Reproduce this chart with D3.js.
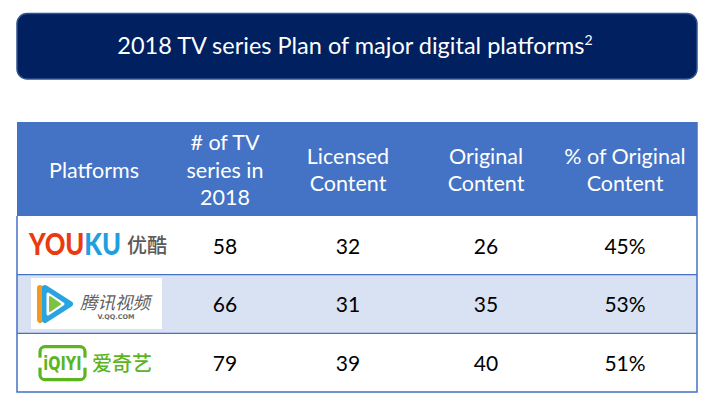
<!DOCTYPE html>
<html>
<head>
<meta charset="utf-8">
<script src="https://cdn.jsdelivr.net/npm/d3@7"></script>
<style>
  html, body { margin: 0; padding: 0; background: #ffffff; }
  svg { display: block; }
</style>
</head>
<body>
<svg id="chart" width="710" height="404"></svg>
<script>
// ---- data ----
const titleText = "2018 TV series Plan of major digital platforms";
const titleNote = "2";
const headers = [
  ["Platforms"],
  ["# of TV", "series in", "2018"],
  ["Licensed", "Content"],
  ["Original", "Content"],
  ["% of Original", "Content"]
];
const platforms = ["Youku", "Tencent Video", "iQIYI"];
const seriesCount = [58, 66, 79];
const licensedContent = [32, 31, 39];
const originalContent = [26, 35, 40];
const originalShare = ["45%", "53%", "51%"];

// ---- layout ----
const FONT = "Lato, 'Open Sans', sans-serif";
const CJK = "'Noto Sans CJK SC', sans-serif";
const svg = d3.select("#chart");
const tableLeft = 17, tableRight = 697;
const headerTop = 122, headerBottom = 216, tableBottom = 392;
const blue = "#4472C4";

// column centre scale
const colKeys = headers.map((d, i) => i);
const colX = d3.scaleOrdinal().domain(colKeys).range([94, 225, 348, 486, 625]);
// row band scale
const rowY = d3.scaleBand().domain(platforms).range([headerBottom, tableBottom]).padding(0);

// ---- title box ----
svg.append("rect")
  .attr("x", 17).attr("y", 13.5).attr("width", 680).attr("height", 65.5)
  .attr("rx", 10).attr("ry", 10)
  .attr("fill", "#002060").attr("stroke", "#2F528F").attr("stroke-width", 1.5);
const t = svg.append("text")
  .attr("x", 355).attr("y", 54)
  .attr("text-anchor", "middle")
  .attr("fill", "#ffffff")
  .attr("font-family", FONT)
  .attr("font-size", 23.5);
t.append("tspan").text(titleText);
t.append("tspan").attr("font-size", 14).attr("dy", -9).text(titleNote);

// ---- header ----
svg.append("rect")
  .attr("x", tableLeft).attr("y", headerTop)
  .attr("width", tableRight - tableLeft).attr("height", headerBottom - headerTop)
  .attr("fill", blue);

const lineH = 27.5;
const headerMid = 170;
svg.selectAll("g.hdr").data(headers).join("g").attr("class", "hdr")
  .each(function (lines, i) {
    const g = d3.select(this);
    const y0 = headerMid - (lines.length - 1) * lineH / 2;
    g.selectAll("text").data(lines).join("text")
      .attr("x", colX(i))
      .attr("y", (d, j) => y0 + j * lineH)
      .attr("dy", "0.35em")
      .attr("text-anchor", "middle")
      .attr("fill", "#ffffff")
      .attr("font-family", FONT)
      .attr("font-size", 21.5)
      .text(d => d);
  });

// ---- body rows ----
const rows = platforms.map((p, i) => ({
  platform: p,
  cells: [seriesCount[i], licensedContent[i], originalContent[i], originalShare[i]],
  shaded: i === 1
}));

const rowG = svg.selectAll("g.row").data(rows).join("g").attr("class", "row");
rowG.append("rect")
  .attr("x", tableLeft).attr("y", d => rowY(d.platform))
  .attr("width", tableRight - tableLeft).attr("height", rowY.bandwidth())
  .attr("fill", d => d.shaded ? "#D9E2F3" : "#ffffff");

rowG.each(function (d) {
  d3.select(this).selectAll("text.val").data(d.cells).join("text")
    .attr("class", "val")
    .attr("x", (v, j) => colX(j + 1))
    .attr("y", rowY(d.platform) + rowY.bandwidth() / 2 + 1)
    .attr("dy", "0.35em")
    .attr("text-anchor", "middle")
    .attr("fill", "#000000")
    .attr("font-family", FONT)
    .attr("font-size", 21)
    .text(v => v);
});

// separators and outer border
svg.selectAll("line.sep").data(platforms.slice(1)).join("line")
  .attr("class", "sep")
  .attr("x1", tableLeft).attr("x2", tableRight)
  .attr("y1", d => rowY(d)).attr("y2", d => rowY(d))
  .attr("stroke", blue).attr("stroke-width", 1.2);
svg.append("path")
  .attr("d", `M${tableLeft},${headerBottom}V${tableBottom}H${tableRight}V${headerTop}`)
  .attr("fill", "none").attr("stroke", blue).attr("stroke-width", 1.5);

// ---- logos ----
function logoYouku(g, cy) {
  const base = cy + 10;
  const tx = g.append("text")
    .attr("x", 29).attr("y", 0)
    .attr("transform", `translate(0,${base}) scale(1,1.2)`)
    .attr("font-family", "Lato, 'DejaVu Sans', sans-serif")
    .attr("font-weight", 900)
    .attr("font-size", 25.5);
  tx.append("tspan").attr("fill", "#EA3A10").text("YOU");
  tx.append("tspan").attr("fill", "#1E9FE0").text("KU");
  g.append("text")
    .attr("x", 127).attr("y", cy + 8)
    .attr("font-family", CJK).attr("font-size", 20).attr("font-weight", 500)
    .attr("fill", "#5a5a5a")
    .text("优酷");
}

function logoTencent(g, cy) {
  g.append("rect").attr("x", 31).attr("y", cy - 26).attr("width", 131).attr("height", 51)
    .attr("fill", "#ffffff");
  const px = 54, py = cy;
  g.append("path")
    .attr("d", `M${px - 14},${py - 16} L${px + 5},${py - 2} L${px - 14},${py + 16} Z`)
    .attr("fill", "#F39A1E").attr("stroke", "#F39A1E").attr("stroke-width", 6).attr("stroke-linejoin", "round");
  g.append("path")
    .attr("d", `M${px - 9},${py - 16} L${px + 16},${py} L${px - 9},${py + 16} Z`)
    .attr("fill", "#2AA4E0").attr("stroke", "#2AA4E0").attr("stroke-width", 6).attr("stroke-linejoin", "round");
  g.append("path")
    .attr("d", `M${px - 6},${py - 10} L${px + 9},${py} L${px - 6},${py + 10} Z`)
    .attr("fill", "#ffffff").attr("stroke", "#ffffff").attr("stroke-width", 3).attr("stroke-linejoin", "round");
  g.append("path")
    .attr("d", `M${px - 4},${py - 7} L${px + 6},${py} L${px - 4},${py + 7} Z`)
    .attr("fill", "#7DC243").attr("stroke", "#7DC243").attr("stroke-width", 2).attr("stroke-linejoin", "round");
  g.append("text")
    .attr("x", 80).attr("y", cy + 5)
    .attr("font-family", CJK).attr("font-size", 17.5).attr("font-style", "italic")
    .attr("fill", "#5f5f5f")
    .text("腾讯视频");
  g.append("text")
    .attr("x", 116).attr("y", cy + 15)
    .attr("text-anchor", "middle")
    .attr("font-family", "'DejaVu Sans', sans-serif").attr("font-size", 6.5).attr("font-weight", 700)
    .attr("fill", "#6a6a6a")
    .text("V.QQ.COM");
}

function logoIqiyi(g, cy) {
  const green = "#5BB521";
  g.append("rect").attr("x", 40).attr("y", cy - 16).attr("width", 45).attr("height", 33)
    .attr("rx", 5).attr("fill", "none").attr("stroke", green).attr("stroke-width", 3.2);
  // gaps in frame sides
  g.append("rect").attr("x", 37).attr("y", cy - 5).attr("width", 5).attr("height", 10).attr("fill", "#ffffff");
  g.append("rect").attr("x", 83).attr("y", cy - 5).attr("width", 5).attr("height", 10).attr("fill", "#ffffff");
  g.append("text")
    .attr("x", 62.5).attr("y", 0).attr("text-anchor", "middle")
    .attr("transform", `translate(0,${cy + 7}) scale(1,1.2)`)
    .attr("font-family", "'DejaVu Sans Condensed', 'DejaVu Sans', sans-serif")
    .attr("font-weight", 700).attr("font-size", 16)
    .attr("fill", green)
    .text("iQIYI");
  g.append("text")
    .attr("x", 92).attr("y", cy + 8)
    .attr("font-family", CJK).attr("font-size", 20).attr("font-weight", 500)
    .attr("fill", green)
    .text("爱奇艺");
}

const logoFns = [logoYouku, logoTencent, logoIqiyi];
rowG.each(function (d, i) {
  const g = d3.select(this).append("g").attr("class", "logo");
  logoFns[i](g, rowY(d.platform) + rowY.bandwidth() / 2);
});
</script>
</body>
</html>
